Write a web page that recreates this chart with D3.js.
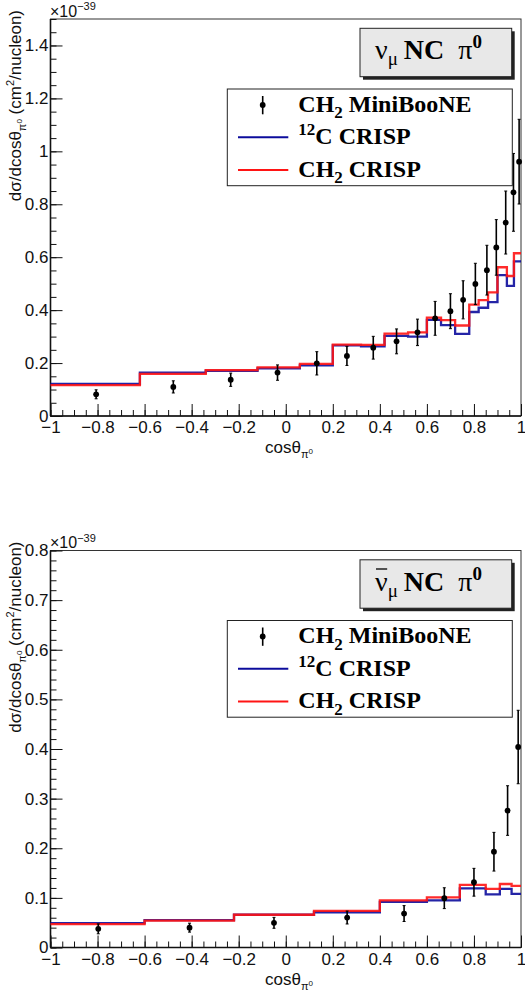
<!DOCTYPE html>
<html><head><meta charset="utf-8">
<script src="https://cdn.jsdelivr.net/npm/d3@7"></script>
<style>body{margin:0;background:#fff} svg{display:block}</style>
</head><body>
<script>
// ---------- data: neutrino panel ----------
const nuEdges = [-1, -0.62, -0.34, -0.12, 0.06, 0.2, 0.32, 0.42, 0.52, 0.6, 0.66, 0.72, 0.78, 0.82, 0.86, 0.9, 0.94, 0.97, 1.0];
const nuC12   = [0.121, 0.164, 0.171, 0.180, 0.191, 0.267, 0.263, 0.303, 0.300, 0.363, 0.343, 0.310, 0.393, 0.409, 0.430, 0.532, 0.492, 0.584];
const nuCH2   = [0.117, 0.159, 0.173, 0.184, 0.197, 0.270, 0.269, 0.311, 0.316, 0.372, 0.362, 0.342, 0.421, 0.438, 0.467, 0.562, 0.529, 0.615];
const nuDataX = [-0.806, -0.478, -0.234, -0.035, 0.132, 0.26, 0.372, 0.471, 0.56, 0.635, 0.70, 0.754, 0.806, 0.855, 0.895, 0.935, 0.968, 0.992];
const nuDataY = [0.082, 0.110, 0.137, 0.164, 0.199, 0.227, 0.258, 0.282, 0.316, 0.369, 0.396, 0.439, 0.499, 0.551, 0.637, 0.731, 0.845, 0.961];
const nuDataE = [0.017, 0.023, 0.025, 0.029, 0.044, 0.036, 0.043, 0.047, 0.050, 0.064, 0.066, 0.072, 0.078, 0.094, 0.105, 0.119, 0.147, 0.160];
const nuYTicks = [0, 0.2, 0.4, 0.6, 0.8, 1, 1.2, 1.4];

// ---------- data: antineutrino panel ----------
const nubEdges = [-1, -0.6, -0.22, 0.12, 0.4, 0.6, 0.74, 0.85, 0.91, 0.96, 1.0];
const nubC12   = [0.049, 0.055, 0.066, 0.071, 0.092, 0.095, 0.119, 0.107, 0.118, 0.108];
const nubCH2   = [0.047, 0.054, 0.066, 0.074, 0.095, 0.101, 0.126, 0.118, 0.128, 0.124];
const nubDataX = [-0.797, -0.409, -0.05, 0.261, 0.503, 0.674, 0.80, 0.885, 0.943, 0.988];
const nubDataY = [0.0376, 0.040, 0.0497, 0.0604, 0.0684, 0.0994, 0.1315, 0.193, 0.276, 0.404];
const nubDataE = [0.010, 0.009, 0.011, 0.013, 0.016, 0.021, 0.028, 0.039, 0.050, 0.074];
const nubYTicks = [0, 0.1, 0.2, 0.3, 0.4, 0.5, 0.6, 0.7, 0.8];

const xTicks = [-1, -0.8, -0.6, -0.4, -0.2, 0, 0.2, 0.4, 0.6, 0.8, 1];
const legendLabels = ["CH2 MiniBooNE", "12C CRISP", "CH2 CRISP"];

const BLUE = "#0c0c9c", RED = "#ff1414";
const SANS = "'Liberation Sans', Arial, Helvetica, sans-serif";
const SERIF = "'Liberation Serif', 'Times New Roman', serif";

const svg = d3.select("body").append("svg").attr("width", 525).attr("height", 990);

function panel(cfg) {
  const g = svg.append("g").attr("transform", `translate(0,${cfg.dy})`);
  const X0 = 50.5, X1 = 521, Y0 = 416, Y1 = 19;
  const x = d3.scaleLinear().domain([-1, 1]).range([X0, X1]);
  const y = d3.scaleLinear().domain([0, cfg.ymax]).range([Y0, Y1]);

  // frame
  g.append("rect").attr("x", X0).attr("y", Y1).attr("width", X1 - X0).attr("height", Y0 - Y1)
    .attr("fill", "none").attr("stroke", "#333").attr("stroke-width", 1);

  // x axis ticks (inside)
  const xMinor = d3.range(-1, 1.0001, 0.05).map(v => +v.toFixed(3));
  const xa = g.append("g").attr("transform", `translate(0,${Y0})`);
  xa.call(d3.axisTop(x).tickValues(xMinor).tickSize(6).tickFormat(""));
  const xb = g.append("g").attr("transform", `translate(0,${Y0})`);
  xb.call(d3.axisTop(x).tickValues(xTicks).tickSize(12).tickFormat(""));
  const xl = g.append("g").attr("transform", `translate(0,${Y0})`);
  xl.call(d3.axisBottom(x).tickValues(xTicks).tickSize(0).tickPadding(5).tickFormat(d3.format("")));
  [xa, xb, xl].forEach(s => { s.select(".domain").remove(); s.selectAll("line").attr("stroke", "#111").attr("stroke-width", 1); });
  xl.selectAll("text").attr("font-family", SANS).attr("font-size", 17).attr("fill", "#111");

  // y axis ticks (inside)
  const yMinor = d3.range(0, cfg.ymax + 1e-9, cfg.yminor).map(v => +v.toFixed(3));
  const ya = g.append("g").attr("transform", `translate(${X0},0)`);
  ya.call(d3.axisRight(y).tickValues(yMinor).tickSize(6).tickFormat(""));
  const yb = g.append("g").attr("transform", `translate(${X0},0)`);
  yb.call(d3.axisRight(y).tickValues(cfg.yticks).tickSize(12).tickFormat(""));
  const yl = g.append("g").attr("transform", `translate(${X0},0)`);
  yl.call(d3.axisLeft(y).tickValues(cfg.yticks).tickSize(0).tickPadding(2).tickFormat(d3.format("")));
  [ya, yb, yl].forEach(s => { s.select(".domain").remove(); s.selectAll("line").attr("stroke", "#111").attr("stroke-width", 1); });
  yl.selectAll("text").attr("font-family", SANS).attr("font-size", 17).attr("fill", "#111");

  // axis lines (thicker left/bottom)
  g.append("line").attr("x1", X0).attr("x2", X0).attr("y1", Y1).attr("y2", Y0).attr("stroke", "#111").attr("stroke-width", 1.6);
  g.append("line").attr("x1", X0).attr("x2", X1).attr("y1", Y0).attr("y2", Y0).attr("stroke", "#111").attr("stroke-width", 1.6);

  // exponent
  const ex = g.append("text").attr("x", 50).attr("y", 16.7).attr("font-family", SANS).attr("font-size", 16).attr("fill", "#111");
  ex.append("tspan").text("×10");
  ex.append("tspan").attr("font-size", 11).attr("dy", -6.5).text("−39");

  // axis titles
  const xt = g.append("text").attr("x", 289).attr("y", 453).attr("text-anchor", "middle")
    .attr("font-family", SANS).attr("font-size", 17).attr("fill", "#111");
  xt.append("tspan").text("cosθ");
  xt.append("tspan").attr("font-size", 11).attr("dy", 5).text("π");
  xt.append("tspan").attr("font-size", 8).attr("dy", -4).text("0");

  const yt = g.append("text").attr("transform", `translate(20.5,10) rotate(-90)`).attr("text-anchor", "end")
    .attr("font-family", SANS).attr("font-size", 17).attr("fill", "#111");
  yt.append("tspan").text("dσ/dcosθ");
  yt.append("tspan").attr("font-size", 11).attr("dy", 5).text("π");
  yt.append("tspan").attr("font-size", 8).attr("dy", -4).text("0");
  yt.append("tspan").attr("dy", -1).text(" (cm");
  yt.append("tspan").attr("font-size", 11).attr("dy", -7).text("2");
  yt.append("tspan").attr("dy", 7).text("/nucleon)");

  // histograms
  const step = d3.line().x(d => x(d[0])).y(d => y(d[1])).curve(d3.curveStepAfter);
  function hist(edges, vals, col) {
    const pts = edges.map((e, i) => [e, vals[Math.min(i, vals.length - 1)]]);
    g.append("path").attr("d", step(pts)).attr("fill", "none").attr("stroke", col).attr("stroke-width", 2.3).attr("stroke-opacity", 0.9);
  }
  hist(cfg.edges, cfg.c12, BLUE);
  hist(cfg.edges, cfg.ch2, RED);

  // data points
  const dg = g.append("g");
  cfg.dx.forEach((xv, i) => {
    const cx = x(xv), lo = y(cfg.dyv[i] - cfg.de[i]), hi = y(cfg.dyv[i] + cfg.de[i]);
    dg.append("line").attr("x1", cx).attr("x2", cx).attr("y1", lo).attr("y2", hi).attr("stroke", "#000").attr("stroke-width", 1.6);
    dg.append("line").attr("x1", cx - 1.5).attr("x2", cx + 1.5).attr("y1", lo).attr("y2", lo).attr("stroke", "#000").attr("stroke-width", 1);
    dg.append("line").attr("x1", cx - 1.5).attr("x2", cx + 1.5).attr("y1", hi).attr("y2", hi).attr("stroke", "#000").attr("stroke-width", 1);
    dg.append("circle").attr("cx", cx).attr("cy", y(cfg.dyv[i])).attr("r", 2.9).attr("fill", "#000");
  });

  // title box with shadow
  g.append("rect").attr("x", 363).attr("y", 31.3).attr("width", 151.7).attr("height", 48.4).attr("fill", "#222");
  g.append("rect").attr("x", 360).attr("y", 28.3).attr("width", 151.7).attr("height", 48.4).attr("fill", "#e8e8e8").attr("stroke", "#222").attr("stroke-width", 1);
  const tt = g.append("text").attr("x", 375).attr("y", 59).attr("font-family", SERIF).attr("font-size", 28).attr("fill", "#000");
  tt.append("tspan").text("ν");
  tt.append("tspan").attr("font-size", 19).attr("dy", 6).text("μ");
  tt.append("tspan").attr("font-weight", "bold").attr("dy", -6).attr("dx", 6).text("NC");
  tt.append("tspan").attr("dx", 14).text("π");
  tt.append("tspan").attr("font-weight", "bold").attr("font-size", 19).attr("dy", -11).text("0");
  if (cfg.bar) {
    const ext = tt.node().getExtentOfChar(0);
    g.append("line").attr("x1", ext.x + 1).attr("x2", ext.x + ext.width - 0.5)
      .attr("y1", 37.5).attr("y2", 37.5).attr("stroke", "#000").attr("stroke-width", 1.3);
  }

  // legend
  g.append("rect").attr("x", 227.3).attr("y", 89).attr("width", 285).attr("height", 96.7)
    .attr("fill", "#fff").attr("stroke", "#222").attr("stroke-width", 1);
  const rows = [111.7, 144, 176.7];
  g.append("line").attr("x1", 262.7).attr("x2", 262.7).attr("y1", 96).attr("y2", 114.3).attr("stroke", "#000").attr("stroke-width", 1.6);
  g.append("circle").attr("cx", 262.7).attr("cy", 105).attr("r", 2.9).attr("fill", "#000");
  g.append("line").attr("x1", 238).attr("x2", 288.3).attr("y1", 137.3).attr("y2", 137.3).attr("stroke", BLUE).attr("stroke-width", 2);
  g.append("line").attr("x1", 238).attr("x2", 288.3).attr("y1", 170).attr("y2", 170).attr("stroke", RED).attr("stroke-width", 2);

  function legText(yb) {
    return g.append("text").attr("x", 298.3).attr("y", yb).attr("font-family", SERIF).attr("font-weight", "bold")
      .attr("font-size", 24).attr("fill", "#000");
  }
  let t1 = legText(rows[0]);
  t1.append("tspan").text(legendLabels[0].slice(0, 2));
  t1.append("tspan").attr("font-size", 17).attr("dy", 6.5).text(legendLabels[0].slice(2, 3));
  t1.append("tspan").attr("dy", -6.5).text(legendLabels[0].slice(3));
  let t2 = legText(rows[1]);
  t2.append("tspan").attr("font-size", 17).attr("dy", -9).text(legendLabels[1].slice(0, 2));
  t2.append("tspan").attr("dy", 9).text(legendLabels[1].slice(2));
  let t3 = legText(rows[2]);
  t3.append("tspan").text(legendLabels[2].slice(0, 2));
  t3.append("tspan").attr("font-size", 17).attr("dy", 6.5).text(legendLabels[2].slice(2, 3));
  t3.append("tspan").attr("dy", -6.5).text(legendLabels[2].slice(3));
}

panel({dy: 0, ymax: 1.5, yminor: 0.05, yticks: nuYTicks, edges: nuEdges, c12: nuC12, ch2: nuCH2,
       dx: nuDataX, dyv: nuDataY, de: nuDataE, bar: false});
panel({dy: 531.5, ymax: 0.8, yminor: 0.02, yticks: nubYTicks, edges: nubEdges, c12: nubC12, ch2: nubCH2,
       dx: nubDataX, dyv: nubDataY, de: nubDataE, bar: true});
</script>
</body></html>
